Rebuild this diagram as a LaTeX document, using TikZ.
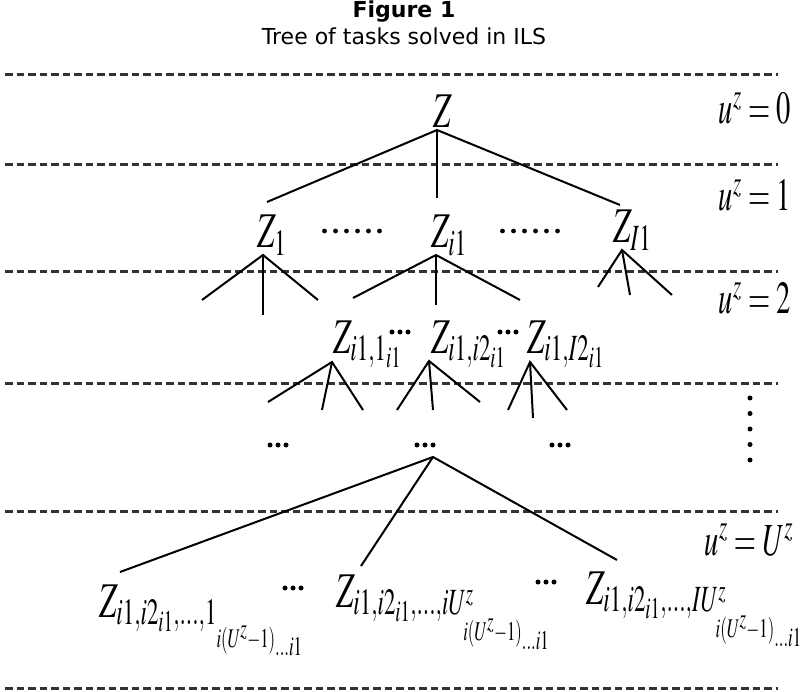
\documentclass[tikz,border=0pt]{standalone}
\usepackage{mathptmx}
\usepackage[no-math]{fontspec}
\newfontfamily\titlefont{DejaVu Sans}
\usepackage{graphicx}
\usetikzlibrary{positioning,calc}
\tikzset{>=stealth}
\newcommand{\slim}[1]{\scalebox{0.62}[1]{$#1$}}
\newcommand{\deep}[1]{\smash{\raisebox{-17pt}{\scalebox{0.9}{$\scriptscriptstyle #1$}}}}

\begin{document}
\begin{tikzpicture}[x=1pt,y=-1pt,
  level/.style={draw=black!80,line width=3pt,dash pattern=on 7.5pt off 4pt},
  branch/.style={line width=2pt},
  task/.style={inner sep=0pt,anchor=base west,font=\fontsize{50}{56}\selectfont},
  tag/.style={inner sep=0pt,anchor=base east,font=\fontsize{46}{52}\selectfont}]
\useasboundingbox (0,0) rectangle (808,692);
% caption
\node[font=\titlefont\bfseries\fontsize{22}{26}\selectfont] (fig) at (404,12) {Figure 1};
\node[font=\titlefont\fontsize{22}{26}\selectfont] (title) at (404,36) {Tree of tasks solved in ILS};
% levels
\foreach \y in {75,165,272,383,511,688}
  \draw[level] (5,\y) -- (778,\y);
\node[tag] (u0) at (791,124) {\slim{u^z=0}};
\node[tag] (u1) at (791,211) {\slim{u^z=1}};
\node[tag] (u2) at (791,314) {\slim{u^z=2}};
\node[tag] (uU) at (793,555) {\slim{u^z=U^z}};
\foreach \k in {0,...,4}
  \fill (750,398+\k*15.5) circle[radius=2.5pt];
% root
\node[task] (Z) at (433,128) {\slim{Z}};
\coordinate (aZ) at (437,130);
\coordinate (e1) at (267,202);
\coordinate (ei) at (437,198);
\coordinate (eI) at (620,205);
\draw[branch] (e1) -- (aZ) -- (eI);
\draw[branch] (aZ) -- (ei);
% first level
\node[task] (Z1) at (257,248) {\slim{Z_1}};
\node[task] (Zi) at (431,248) {\slim{Z_{i1}}};
\node[task] (ZI) at (613,243) {\slim{Z_{I1}}};
\coordinate (a1) at (263,255);
\coordinate (ai) at (436,255);
\coordinate (aI) at (622,250);
\draw[branch] (202,300) -- (a1) -- (318,300);
\draw[branch] (a1) -- (263,315);
\draw[branch] (353,298) -- (ai) -- (520,300);
\draw[branch] (ai) -- (436,305);
\draw[branch] (598,287) -- (aI) -- (672,295);
\draw[branch] (aI) -- (630,295);
\foreach \x in {352,530}
  \foreach \k in {0,...,5}
    \fill (\x-27.5+\k*11,231) circle[radius=2.4pt];
% second level
\node[task] (Zi1) at (333,353) {\slim{Z_{i1,1_{i1}}}};
\node[task] (Zi2) at (431,353) {\slim{Z_{i1,i2_{i1}}}};
\node[task] (ZI2) at (527,353) {\slim{Z_{i1,I2_{i1}}}};
\coordinate (b1) at (332,362);
\coordinate (b2) at (429,361);
\coordinate (b3) at (530,362);
\draw[branch] (268,402) -- (b1) -- (363,410);
\draw[branch] (b1) -- (322,410);
\draw[branch] (397,410) -- (b2) -- (480,402);
\draw[branch] (b2) -- (433,410);
\draw[branch] (508,410) -- (b3) -- (567,410);
\draw[branch] (b3) -- (533,418);
\foreach \x/\y in {400/332,508/332,278/445,425/445,560/445,293/588,546/582}
  \foreach \k in {-1,0,1}
    \fill (\x+\k*8,\y) circle[radius=2.5pt];
% last level
\coordinate (c) at (433,457);
\node[task] (Zl) at (99,617) {\slim{Z_{i1,i2_{i1},\dots,1_{\deep{i(U^z-1)_{\dots i1}}}}}};
\node[task] (Zm) at (336,607) {\slim{Z_{i1,i2_{i1},\dots,iU^z_{\deep{i(U^z-1)_{\dots i1}}}}}};
\node[task] (Zr) at (586,604) {\slim{Z_{i1,i2_{i1},\dots,IU^z_{\deep{i(U^z-1)_{\dots i1}}}}}};
\coordinate (dl) at (120,572);
\coordinate (dm) at (361,566);
\coordinate (dr) at (617,560);
\draw[branch] (dl) -- (c) -- (dr);
\draw[branch] (c) -- (dm);
\end{tikzpicture}
\end{document}
